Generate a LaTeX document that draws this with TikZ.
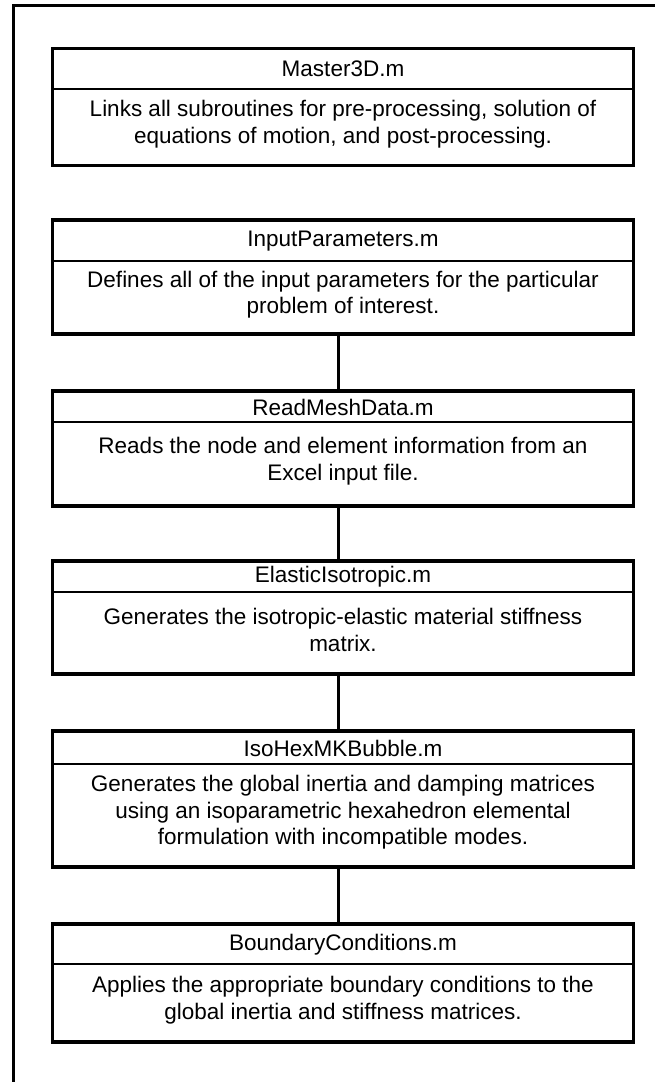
\documentclass[tikz,border=0pt]{standalone}
\usepackage{fontspec}
\setmainfont{Liberation Sans}
\begin{document}
\begin{tikzpicture}[x=1pt,y=-1pt,
  boxshape/.style={draw=black, line width=3.4pt, fill=white, inner sep=0pt, outer sep=0pt, minimum width=581pt},
  divider/.style={draw=black, line width=1.1pt},
  link/.style={draw=black, line width=3pt},
  framestyle/.style={draw=black, line width=3pt},
  titletext/.style={inner sep=0pt, font=\fontsize{22.5}{26.5}\selectfont},
  desctext/.style={inner sep=0pt, align=center, font=\fontsize{22.5}{26.5}\selectfont}]
\useasboundingbox (0,0) rectangle (655,1082);
\fill[white] (0,0) rectangle (655,1082);
% outer frame (top and left edges only)
\coordinate (fbl) at (13.3,1083);
\coordinate (ftl) at (13.3,5.3);
\coordinate (ftr) at (656,5.3);
\draw[framestyle, line cap=rect] (fbl) -- (ftl) -- (ftr);
\newcommand\flowbox[6]{%
  \node[boxshape, minimum height={(#4-#2)*1pt}] (#1) at (343,{(#2+#4)/2}) {};
  \draw[divider] (#1.west |- 0,#3) -- (#1.east |- 0,#3);
  \node[titletext] (#1T) at (343,{(#2+#3)/2+0.5}) {#5};
  \node[desctext] (#1D) at (343,{(#3+#4)/2-3}) {#6};
}
\flowbox{master}{48.5}{89}{165.5}{Master3D.m}{Links all subroutines for pre-processing, solution of\\ equations of motion, and post-processing.}
\flowbox{input}{220}{261}{334}{InputParameters.m}{Defines all of the input parameters for the particular\\ problem of interest.}
\flowbox{read}{391}{422}{506}{ReadMeshData.m}{Reads the node and element information from an\\ Excel input file.}
\flowbox{elastic}{561}{592}{674}{ElasticIsotropic.m}{Generates the isotropic-elastic material stiffness\\ matrix.}
\flowbox{isohex}{731}{764}{867}{IsoHexMKBubble.m}{Generates the global inertia and damping matrices\\ using an isoparametric hexahedron elemental\\ formulation with incompatible modes.}
\flowbox{boundary}{924}{964}{1042}{BoundaryConditions.m}{Applies the appropriate boundary conditions to the\\ global inertia and stiffness matrices.}
\draw[link] ([xshift=-5pt]input.south) -- ([xshift=-5pt]read.north);
\draw[link] ([xshift=-5pt]read.south) -- ([xshift=-5pt]elastic.north);
\draw[link] ([xshift=-5pt]elastic.south) -- ([xshift=-5pt]isohex.north);
\draw[link] ([xshift=-5pt]isohex.south) -- ([xshift=-5pt]boundary.north);
\end{tikzpicture}
\end{document}
